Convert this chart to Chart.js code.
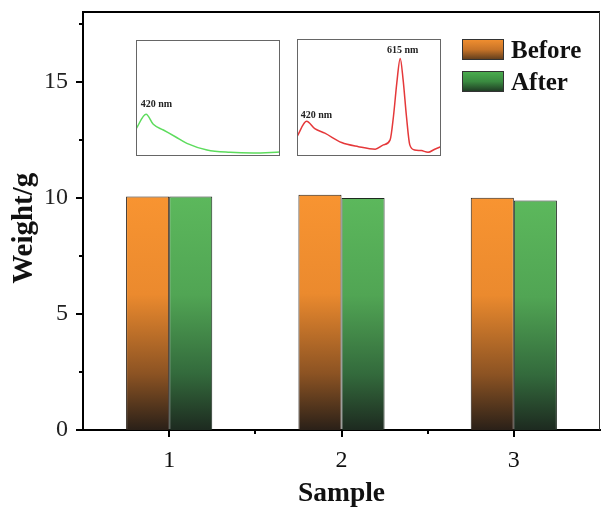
<!DOCTYPE html>
<html><head><meta charset="utf-8">
<script src="https://cdn.jsdelivr.net/npm/chart.js@4.4.0/dist/chart.umd.min.js"></script>
<style>
html,body{margin:0;padding:0;background:#fff;overflow:hidden}
#wrap{position:relative;width:601px;height:513px}
#main{position:absolute;left:0;top:0}
.inset{position:absolute;background:#fff}
.inset canvas{display:block}
</style></head><body>
<div id="wrap">
<canvas id="main" width="601" height="513"></canvas>
<div class="inset" style="left:136px;top:40px;width:144px;height:116px"><canvas id="in1" width="144" height="116"></canvas></div>
<div class="inset" style="left:297px;top:39px;width:144px;height:117px"><canvas id="in2" width="144" height="117"></canvas></div>
</div>
<script>
// ---- data ----
const categories = ['1', '2', '3'];
const seriesNames = ['Before', 'After'];
const beforeValues = [10.06, 10.13, 10.00];
const afterValues = [10.05, 9.99, 9.88];
const yTickValues = [0, 5, 10, 15];
const yMinorTickValues = [2.5, 7.5, 12.5, 17.5];
const xMinorTickIndices = [0.5, 1.5];

const greenWavelengths = [400, 421, 436, 457, 482, 506, 548, 596, 644, 700];
const greenIntensity   = [0.233, 0.36, 0.273, 0.224, 0.166, 0.109, 0.052, 0.032, 0.026, 0.034];
const redWavelengths = [400, 420, 437, 458, 493, 528, 563, 580, 594, 601, 608, 615, 621, 628, 635, 645, 659, 673, 687, 700];
const redIntensity   = [0.166, 0.296, 0.233, 0.195, 0.115, 0.08, 0.058, 0.095, 0.138, 0.34, 0.627, 0.834, 0.655, 0.34, 0.095, 0.052, 0.046, 0.032, 0.058, 0.08];

// ---- styles ----
const SERIF = "'Liberation Serif', 'Times New Roman', serif";
const orangeStops = [[0, '#f89431'], [0.42, '#eb8a2e'], [0.76, '#8c5323'], [1, '#2a2018']];
const greenStops  = [[0, '#5cb85c'], [0.42, '#51a554'], [0.76, '#336a3c'], [1, '#1d2a20']];

function barGradient(stops) {
  return (c) => {
    const chart = c.chart;
    const area = chart.chartArea;
    if (!area) return stops[0][1];
    const y = chart.scales.y;
    const v = (c.raw !== undefined) ? c.raw : 10;
    const top = y.getPixelForValue(v), bottom = y.getPixelForValue(0);
    const g = chart.ctx.createLinearGradient(0, top, 0, bottom);
    stops.forEach(s => g.addColorStop(s[0], s[1]));
    return g;
  };
}

const framePlugin = {
  id: 'frameAndTicks',
  afterDraw(chart) {
    const {ctx, chartArea: a, scales} = chart;
    ctx.save();
    ctx.strokeStyle = '#000'; ctx.lineWidth = 2;
    ctx.beginPath(); ctx.moveTo(a.left - 1, a.top); ctx.lineTo(a.right, a.top); ctx.stroke();
    ctx.strokeStyle = '#333'; ctx.lineWidth = 1;
    ctx.beginPath(); ctx.moveTo(a.right - 0.5, a.top); ctx.lineTo(a.right - 0.5, a.bottom); ctx.stroke();
    ctx.strokeStyle = '#000'; ctx.lineWidth = 2;
    yTickValues.forEach(v => { const p = Math.round(scales.y.getPixelForValue(v));
      ctx.beginPath(); ctx.moveTo(a.left - 7, p); ctx.lineTo(a.left, p); ctx.stroke(); });
    yMinorTickValues.forEach(v => { const p = Math.round(scales.y.getPixelForValue(v));
      ctx.beginPath(); ctx.moveTo(a.left - 4, p); ctx.lineTo(a.left, p); ctx.stroke(); });
    categories.forEach((c, i) => { const p = Math.round(scales.x.getPixelForValue(i));
      ctx.beginPath(); ctx.moveTo(p, a.bottom); ctx.lineTo(p, a.bottom + 7); ctx.stroke(); });
    xMinorTickIndices.forEach(i => { const p = Math.round(scales.x.getPixelForValue(i));
      ctx.beginPath(); ctx.moveTo(p, a.bottom); ctx.lineTo(p, a.bottom + 4); ctx.stroke(); });
    // legend
    const lx = a.right - 138, ly = [39, 71];
    const sw = [
      [[0, '#f39030'], [0.5, '#c87428'], [1, '#5a3a1c']],
      [[0, '#4caf50'], [0.5, '#3a8a40'], [1, '#1d3522']]
    ];
    seriesNames.forEach((name, i) => {
      const g = ctx.createLinearGradient(0, ly[i], 0, ly[i] + 21);
      sw[i].forEach(s => g.addColorStop(s[0], s[1]));
      ctx.fillStyle = g; ctx.fillRect(lx, ly[i], 42, 21);
      ctx.strokeStyle = '#333'; ctx.lineWidth = 1; ctx.strokeRect(lx + 0.5, ly[i] + 0.5, 41, 20);
      ctx.fillStyle = '#111'; ctx.font = "bold 25px " + SERIF; ctx.textBaseline = 'alphabetic'; ctx.textAlign = 'left';
      ctx.fillText(name, lx + 49, ly[i] + 19);
    });
    ctx.restore();
  }
};

new Chart(document.getElementById('main'), {
  type: 'bar',
  data: {
    labels: categories,
    datasets: [
      { label: seriesNames[0], data: beforeValues, backgroundColor: barGradient(orangeStops), borderColor: '#2a2018', borderWidth: 1 },
      { label: seriesNames[1], data: afterValues, backgroundColor: barGradient(greenStops), borderColor: '#1e2a20', borderWidth: 1 }
    ]
  },
  options: {
    responsive: false, animation: false,
    layout: { padding: { top: 12, right: 1, left: 0, bottom: 0 } },
    datasets: { bar: { categoryPercentage: 0.5, barPercentage: 1.0 } },
    plugins: { legend: { display: false }, tooltip: { enabled: false } },
    scales: {
      x: {
        type: 'category', offset: true,
        grid: { display: false, drawTicks: false },
        border: { display: true, color: '#000', width: 2 },
        ticks: { font: { family: SERIF, size: 24 }, color: '#111', padding: 16 },
        title: { display: true, text: 'Sample', font: { family: SERIF, size: 27.5, weight: 'bold' }, color: '#111', padding: { top: 0, bottom: 3 } },
        afterFit(s) { s.height = 83; s.paddingLeft = 0; s.paddingRight = 0; }
      },
      y: {
        min: 0, max: 18,
        afterBuildTicks(s) { s.ticks = yTickValues.map(v => ({ value: v })); },
        grid: { display: false, drawTicks: false },
        border: { display: true, color: '#000', width: 2 },
        ticks: { font: { family: SERIF, size: 24 }, color: '#222', padding: 15 },
        title: { display: true, text: 'Weight/g  ', font: { family: SERIF, size: 29, weight: 'bold' }, color: '#111', padding: { top: 7, bottom: 0 } },
        afterFit(s) { s.width = 83; s.paddingTop = 0; s.paddingBottom = 0; }
      }
    }
  },
  plugins: [framePlugin]
});

// ---- insets ----
const insetPlugin = {
  id: 'insetDeco',
  afterDraw(chart, args, opts) {
    const {ctx, chartArea: a, scales} = chart;
    ctx.save();
    ctx.strokeStyle = '#666'; ctx.lineWidth = 1;
    ctx.strokeRect(a.left + 0.5, a.top + 0.5, a.right - a.left - 1, a.bottom - a.top - 1);
    ctx.fillStyle = '#222'; ctx.font = "bold 10px " + SERIF; ctx.textBaseline = 'alphabetic';
    (opts.labels || []).forEach(l => {
      ctx.textAlign = l.align;
      ctx.fillText(l.text, scales.x.getPixelForValue(l.x), scales.y.getPixelForValue(l.y));
    });
    ctx.restore();
  }
};

function makeInset(id, xs, ys, color, labels) {
  new Chart(document.getElementById(id), {
    type: 'line',
    data: { datasets: [{ data: xs.map((x, i) => ({ x: x, y: ys[i] })), borderColor: color, borderWidth: 1.5, pointRadius: 0, cubicInterpolationMode: 'monotone', fill: false }] },
    options: {
      responsive: false, animation: false,
      layout: { padding: 0 },
      plugins: { legend: { display: false }, tooltip: { enabled: false }, insetDeco: { labels: labels } },
      scales: {
        x: { type: 'linear', min: 400, max: 700, display: false },
        y: { min: 0, max: 1, display: false }
      }
    },
    plugins: [insetPlugin]
  });
}
makeInset('in1', greenWavelengths, greenIntensity, '#5ddc5d', [{ text: '420 nm', x: 409.8, y: 0.42, align: 'left' }]);
makeInset('in2', redWavelengths, redIntensity, '#e5383a', [
  { text: '420 nm', x: 407.7, y: 0.325, align: 'left' },
  { text: '615 nm', x: 620, y: 0.879, align: 'center' }
]);
</script>
</body></html>
